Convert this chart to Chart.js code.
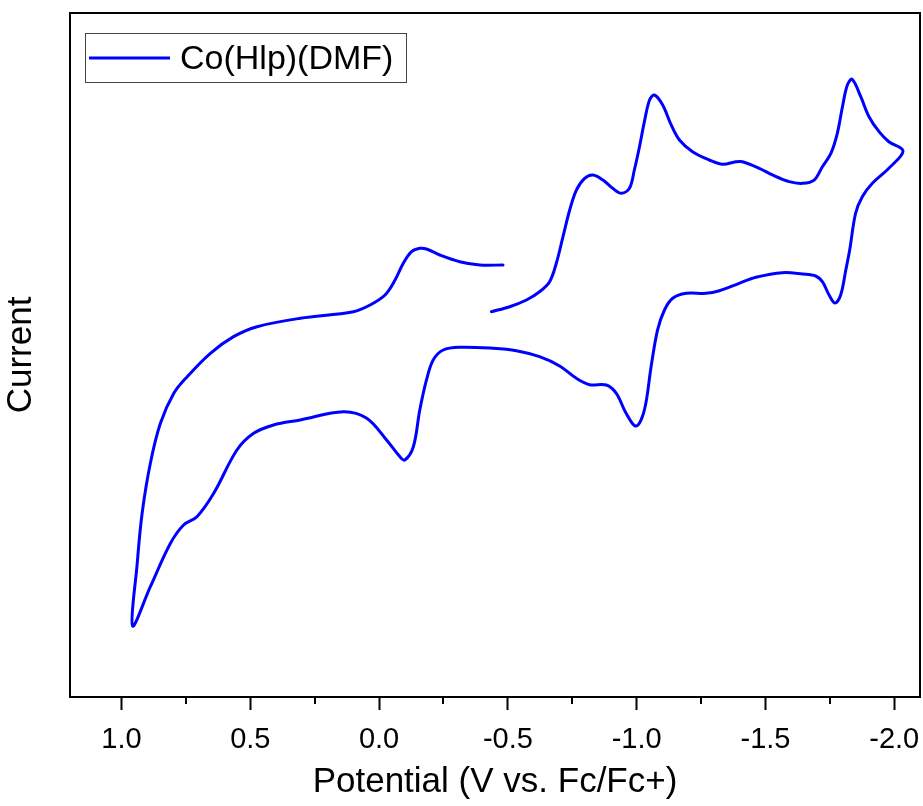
<!DOCTYPE html>
<html>
<head>
<meta charset="utf-8">
<script src="https://cdn.jsdelivr.net/npm/chart.js@4/dist/chart.umd.min.js"></script>
<style>
  body { margin: 0; background: #fff; }
  #wrap { width: 923px; height: 806px; }
</style>
</head>
<body>
<div id="wrap"><canvas id="cv" width="923" height="806"></canvas></div>
<script>
// datos (corriente en unidades arbitrarias, sin escala en el eje)
var serieNombre = 'Co(Hlp)(DMF)';
var potencial = [
  -0.481, -0.391, -0.313, -0.236, -0.184, -0.158, -0.126, -0.094, -0.062, -0.023,
   0.035,  0.100,  0.306,  0.474,  0.565,  0.655,  0.745,  0.797,  0.849,  0.888,
   0.920,  0.939,  0.957,
   0.888,  0.810,  0.759,  0.707,  0.642,  0.552,  0.487,  0.410,  0.306,  0.139,
   0.048, -0.029, -0.081, -0.100, -0.133, -0.158, -0.184, -0.210, -0.249, -0.313,
  -0.442, -0.533, -0.623, -0.701, -0.766, -0.817, -0.882, -0.921, -0.959, -0.998,
  -1.030, -1.056, -1.081, -1.108, -1.140, -1.192, -1.269, -1.321, -1.398, -1.463,
  -1.566, -1.644, -1.695, -1.721, -1.747, -1.770, -1.792, -1.812, -1.827, -1.850,
  -1.876, -1.915, -1.979, -2.034,
  -1.979, -1.941, -1.902, -1.870, -1.837, -1.818, -1.799, -1.779, -1.754, -1.721,
  -1.689, -1.644, -1.592, -1.527, -1.476, -1.411, -1.385, -1.334, -1.282, -1.217,
  -1.166, -1.134, -1.101, -1.069, -1.050, -1.030, -1.011, -0.991, -0.972, -0.940,
  -0.907, -0.869, -0.830, -0.798, -0.766, -0.740, -0.714, -0.688, -0.662, -0.623,
  -0.572, -0.507, -0.436
];
var corriente = [
  63.16, 63.16, 63.64, 64.62, 65.50, 65.60, 65.10, 63.41, 60.96, 58.77,
  57.31, 56.33, 55.37, 54.14, 52.68, 50.25, 46.83, 44.40, 40.01, 34.17,
  26.86, 19.55, 10.38,
  16.13, 22.47, 25.15, 26.36, 29.78, 36.11, 38.55, 39.77, 40.50, 41.71,
  40.75, 37.57, 35.13, 34.65, 36.59, 41.96, 46.35, 49.27, 50.73, 51.13,
  50.98, 50.63, 49.75, 48.39, 46.59, 45.66, 45.61, 44.40, 41.48, 39.62,
  41.96, 48.29, 53.65, 56.58, 58.29, 59.02, 59.02, 59.40, 60.48, 61.36,
  62.03, 61.84, 61.55, 60.72, 58.77, 57.60, 58.77, 62.43, 65.35, 70.72,
  73.14, 75.10, 77.30, 79.82,
  81.18, 82.65, 84.84, 87.76, 90.31, 89.47, 86.30, 82.41, 79.49, 77.53,
  75.58, 75.10, 75.34, 76.32, 77.30, 78.26, 78.26, 77.88, 78.51, 79.72,
  81.43, 83.63, 86.55, 88.01, 87.28, 84.11, 80.45, 77.05, 74.37, 73.64,
  74.37, 75.58, 76.32, 75.83, 74.12, 71.20, 67.30, 63.41, 60.72, 59.25,
  58.04, 57.06, 56.33
];
var ticksMenores = [-1.75, -1.25, -0.75, -0.25, 0.25, 0.75];

var puntos = potencial.map(function (v, i) {
    return { x: v, y: corriente[i] };
});

var fuente = "'Liberation Sans', Arial, sans-serif";

// marco, ticks menores y leyenda con borde
var extras = {
    id: 'extras',
    afterDraw: function (chart) {
        var ctx = chart.ctx;
        var a = chart.chartArea;
        var xs = chart.scales.x;
        ctx.save();
        ctx.strokeStyle = '#000';
        ctx.lineWidth = 2;
        ctx.strokeRect(a.left, a.top, a.right - a.left, a.bottom - a.top);

        ticksMenores.forEach(function (t) {
            var px = Math.round(xs.getPixelForValue(t));
            ctx.beginPath();
            ctx.moveTo(px, a.bottom);
            ctx.lineTo(px, a.bottom + 7);
            ctx.stroke();
        });

        var ds = chart.data.datasets[0];
        ctx.lineWidth = 1;
        ctx.strokeStyle = '#444';
        ctx.strokeRect(85.5, 33.5, 321, 49);
        ctx.strokeStyle = ds.borderColor;
        ctx.lineWidth = 3;
        ctx.beginPath();
        ctx.moveTo(89, 58);
        ctx.lineTo(170, 58);
        ctx.stroke();
        ctx.fillStyle = '#000';
        ctx.font = '34px ' + fuente;
        ctx.textBaseline = 'middle';
        ctx.fillText(ds.label, 180, 60);
        ctx.restore();
    }
};

new Chart(document.getElementById('cv'), {
    type: 'scatter',
    data: {
        datasets: [{
            label: serieNombre,
            data: puntos,
            showLine: true,
            borderColor: '#0000ff',
            borderWidth: 3,
            borderJoinStyle: 'round',
            borderCapStyle: 'round',
            pointRadius: 0,
            tension: 0.35,
            fill: false
        }]
    },
    options: {
        responsive: false,
        animation: false,
        layout: { padding: { top: 13, right: 3, left: 0, bottom: 0 } },
        plugins: {
            legend: { display: false },
            tooltip: { enabled: false }
        },
        scales: {
            x: {
                type: 'linear',
                reverse: true,
                min: -2.1,
                max: 1.2,
                afterFit: function (s) {
                    s.height = 109;
                    s.paddingLeft = 0;
                    s.paddingRight = 0;
                },
                border: { display: false },
                grid: {
                    drawOnChartArea: false,
                    drawTicks: true,
                    tickLength: 13,
                    tickWidth: 2,
                    tickColor: '#000'
                },
                ticks: {
                    stepSize: 0.5,
                    includeBounds: false,
                    padding: 13,
                    color: '#000',
                    font: { family: fuente, size: 29 },
                    maxRotation: 0,
                    callback: function (v) { return Number(v).toFixed(1); }
                },
                title: {
                    display: true,
                    text: 'Potential (V vs. Fc/Fc+)',
                    color: '#000',
                    font: { family: fuente, size: 35 },
                    padding: { top: 0, bottom: 3 }
                }
            },
            y: {
                type: 'linear',
                min: 0,
                max: 100,
                afterFit: function (s) { s.width = 70; },
                border: { display: false },
                grid: { display: false },
                ticks: { display: false },
                title: {
                    display: true,
                    text: 'Current',
                    color: '#000',
                    font: { family: fuente, size: 35 },
                    padding: { top: 0, bottom: 7 }
                }
            }
        }
    },
    plugins: [extras]
});
</script>
</body>
</html>
